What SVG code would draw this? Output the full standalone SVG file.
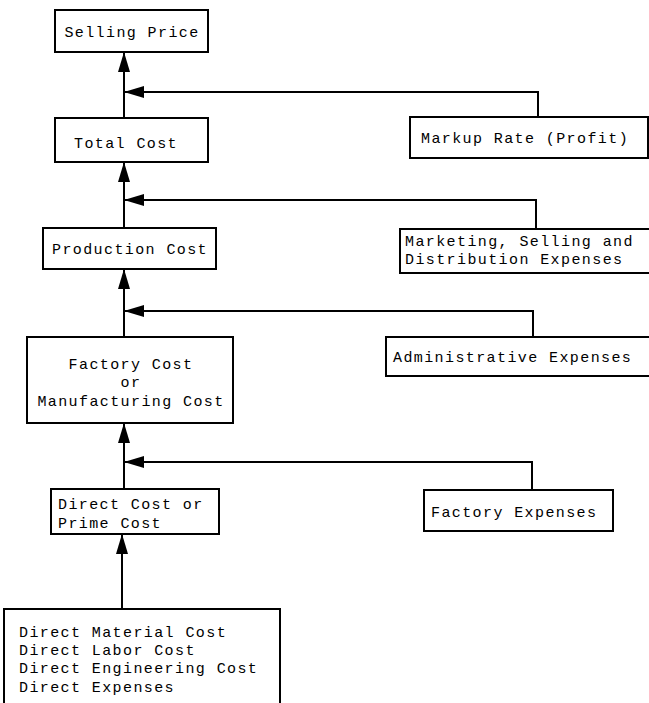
<svg xmlns="http://www.w3.org/2000/svg" width="649" height="703" viewBox="0 0 649 703">
  <style>
    .box { fill: #ffffff; stroke: #000000; stroke-width: 2; }
    .lbl { font-family: "Liberation Mono", "DejaVu Sans Mono", monospace; font-size: 15px; letter-spacing: 1.4px; fill: #000000; }
    .mid { text-anchor: middle; }
    .wire { fill: none; stroke: #000000; stroke-width: 2; }
  </style>
  <defs>
    <marker id="head" viewBox="0 0 20 12" refX="20" refY="6" markerWidth="20" markerHeight="12" markerUnits="userSpaceOnUse" orient="auto">
      <path d="M0,0 L20,6 L0,12 Z" fill="#000000"/>
    </marker>
  </defs>
  <rect width="649" height="703" fill="#ffffff"/>

  <!-- connectors -->
  <g id="connectors">
    <path class="wire" d="M124,118 V52" marker-end="url(#head)"/>
    <path class="wire" d="M538,117 V92 H124" marker-end="url(#head)"/>
    <path class="wire" d="M124,228 V162" marker-end="url(#head)"/>
    <path class="wire" d="M536,229 V200 H124" marker-end="url(#head)"/>
    <path class="wire" d="M124,337 V269" marker-end="url(#head)"/>
    <path class="wire" d="M533,337 V311 H124" marker-end="url(#head)"/>
    <path class="wire" d="M124,489 V423" marker-end="url(#head)"/>
    <path class="wire" d="M532,490 V462 H124" marker-end="url(#head)"/>
    <path class="wire" d="M122,609 V534" marker-end="url(#head)"/>
  </g>

  <!-- cost build-up chain -->
  <g id="selling-price">
    <rect class="box" x="55" y="10" width="153" height="42"/>
    <text class="lbl mid" x="132" y="37">Selling Price</text>
  </g>
  <g id="total-cost">
    <rect class="box" x="55" y="118" width="153" height="44"/>
    <text class="lbl mid" x="126" y="148">Total Cost</text>
  </g>
  <g id="production-cost">
    <rect class="box" x="43" y="228" width="173" height="41"/>
    <text class="lbl mid" x="130" y="254">Production Cost</text>
  </g>
  <g id="factory-cost">
    <rect class="box" x="27" y="337" width="206" height="86"/>
    <text class="lbl mid" x="131" y="369">Factory Cost</text>
    <text class="lbl mid" x="131" y="387">or</text>
    <text class="lbl mid" x="131" y="406">Manufacturing Cost</text>
  </g>
  <g id="direct-cost">
    <rect class="box" x="51" y="489" width="168" height="45"/>
    <text class="lbl" x="58" y="509">Direct Cost or</text>
    <text class="lbl" x="58" y="528">Prime Cost</text>
  </g>
  <g id="direct-items">
    <rect class="box" x="4" y="609" width="276" height="110"/>
    <text class="lbl" x="19" y="637">Direct Material Cost</text>
    <text class="lbl" x="19" y="655">Direct Labor Cost</text>
    <text class="lbl" x="19" y="673">Direct Engineering Cost</text>
    <text class="lbl" x="19" y="692">Direct Expenses</text>
  </g>

  <!-- additions on the right -->
  <g id="markup">
    <rect class="box" x="410" y="117" width="238" height="41"/>
    <text class="lbl" x="421" y="143">Markup Rate (Profit)</text>
  </g>
  <g id="marketing">
    <rect class="box" x="400" y="229" width="252" height="44"/>
    <text class="lbl" x="405" y="246">Marketing, Selling and</text>
    <text class="lbl" x="405" y="264">Distribution Expenses</text>
  </g>
  <g id="administrative">
    <rect class="box" x="386" y="337" width="266" height="39"/>
    <text class="lbl" x="393" y="362">Administrative Expenses</text>
  </g>
  <g id="factory-expenses">
    <rect class="box" x="424" y="490" width="189" height="41"/>
    <text class="lbl" x="431" y="517">Factory Expenses</text>
  </g>
</svg>
